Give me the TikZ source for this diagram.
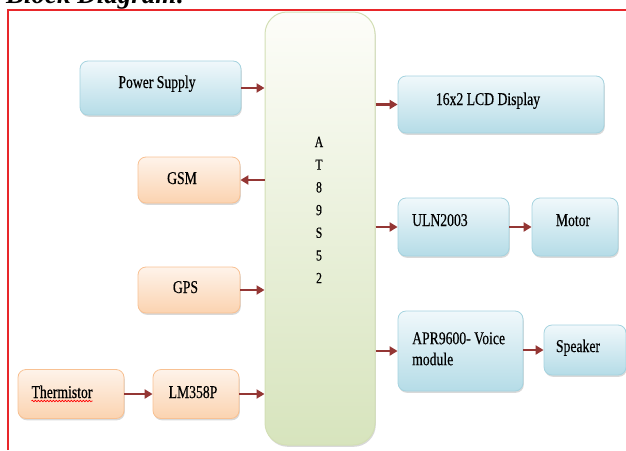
\documentclass[tikz,border=0pt]{standalone}
\usepackage{fontspec}
\setmainfont{Liberation Serif}[FakeStretch=0.76, FakeBold=0.4]
\newfontfamily\titlefont{Liberation Serif}
\usepackage{tikz}
\usetikzlibrary{arrows.meta, shadows, decorations.pathmorphing}
\definecolor{arrowred}{HTML}{943634}
\definecolor{framered}{HTML}{E8262A}
\definecolor{bluetop}{HTML}{F0F8FB}
\definecolor{bluebot}{HTML}{B5DCE7}
\definecolor{blueline}{HTML}{A5D3DF}
\definecolor{orangetop}{HTML}{FEF3EA}
\definecolor{orangebot}{HTML}{FBD3B0}
\definecolor{orangeline}{HTML}{F8C193}
\definecolor{chiptop}{HTML}{FDFDF9}
\definecolor{chipbot}{HTML}{D7E4BD}
\definecolor{chipline}{HTML}{D3DFB5}
\tikzstyle{arrow} = [line width=2.3pt, draw=arrowred, -{Triangle[length=8pt,width=9pt]}]
\tikzstyle{frame} = [line width=1.2pt, draw=framered]
\tikzstyle{bbox} = [rectangle, rounded corners=8pt, draw=blueline, line width=0.8pt, top color=bluetop, bottom color=bluebot, drop shadow={shadow xshift=0.8pt, shadow yshift=-1.8pt, opacity=0.3}]
\tikzstyle{obox} = [rectangle, rounded corners=8pt, draw=orangeline, line width=0.8pt, top color=orangetop, bottom color=orangebot, drop shadow={shadow xshift=0.8pt, shadow yshift=-1.8pt, opacity=0.3}]
\tikzstyle{chipbox} = [rectangle, rounded corners=22pt, draw=chipline, line width=1pt, top color=chiptop, bottom color=chipbot, drop shadow={shadow xshift=0.8pt, shadow yshift=-1.8pt, opacity=0.3}]
\tikzstyle{lbl} = [anchor=base, inner sep=0pt, font=\fontsize{18}{21}\selectfont]
\tikzstyle{spell} = [draw=red, line width=0.6pt, decorate, decoration={snake, amplitude=0.8pt, segment length=3pt}]

\begin{document}
\begin{tikzpicture}[x=1pt, y=-1pt]
		\useasboundingbox (0,0) rectangle (626,450);
		% heading and frame
		\node (title) [anchor=base west, inner sep=0pt, font=\titlefont\bfseries\itshape\fontsize{27}{30}\selectfont] at (6,3) {Block Diagram:};
		\coordinate (fbl) at (8,450);
		\coordinate (ftl) at (8,10);
		\coordinate (ftr) at (626,10);
		\draw [frame] (fbl) -- (ftl) -- (ftr);
		% controller
		\node (chip) [chipbox, minimum width=110, minimum height=433] at (320,228.5) {};
		\foreach \c [count=\i] in {A,T,8,9,S,5,2}
			\node (chip\i) [anchor=base, inner sep=0pt, font=\fontsize{15.5}{18}\selectfont] at (319,{147+22.7*(\i-1)}) {\c};
		% left side
		\node (ps) [bbox, minimum width=161, minimum height=54] at (160.5,88) {};
		\node (psT) [lbl] at (157,88) {Power Supply};
		\draw [arrow] (ps.east) -- (ps.east -| chip.west);
		\node (gsm) [obox, minimum width=102, minimum height=46] at (189,180) {};
		\node (gsmT) [lbl] at (182,184) {GSM};
		\draw [arrow] (chip.west |- gsm.east) -- (gsm.east);
		\node (gps) [obox, minimum width=102, minimum height=46] at (189,290) {};
		\node (gpsT) [lbl] at (185.5,293) {GPS};
		\draw [arrow] (gps.east) -- (gps.east -| chip.west);
		\node (th) [obox, minimum width=106, minimum height=49] at (71,394) {};
		\node (thT) [lbl] at (62,398) {Thermistor};
		\draw [spell] ([yshift=-3pt]thT.base west) -- ([yshift=-3pt]thT.base east);
		\node (lm) [obox, minimum width=86, minimum height=49] at (196,394) {};
		\node (lmT) [lbl] at (193,398) {LM358P};
		\draw [arrow] (th) -- (lm);
		\draw [arrow] (lm.east) -- (lm.east -| chip.west);
		% right side
		\node (lcd) [bbox, minimum width=206, minimum height=57] at (501,104.5) {};
		\node (lcdT) [lbl] at (488,105) {16x2 LCD Display};
		\draw [arrow] (chip.east |- lcd.west) -- (lcd.west);
		\node (uln) [bbox, minimum width=111, minimum height=58] at (453.5,227) {};
		\node (ulnT) [lbl, anchor=base west] at (412,226) {ULN2003};
		\draw [arrow] (chip.east |- uln.west) -- (uln.west);
		\node (motor) [bbox, minimum width=86, minimum height=58] at (575,227) {};
		\node (motorT) [lbl] at (573,226) {Motor};
		\draw [arrow] (uln) -- (motor);
		\node (apr) [bbox, minimum width=125, minimum height=80] at (460.5,351) {};
		\node (aprT) [lbl, anchor=north west, align=left] at (412,332) {APR9600- Voice\\module};
		\draw [arrow] (chip.east |- apr.west) -- (apr.west);
		\node (spk) [bbox, minimum width=82, minimum height=50] at (585,350) {};
		\node (spkT) [lbl] at (578,352) {Speaker};
		\draw [arrow] (apr.east |- spk.west) -- (spk.west);
\end{tikzpicture}
\end{document}
